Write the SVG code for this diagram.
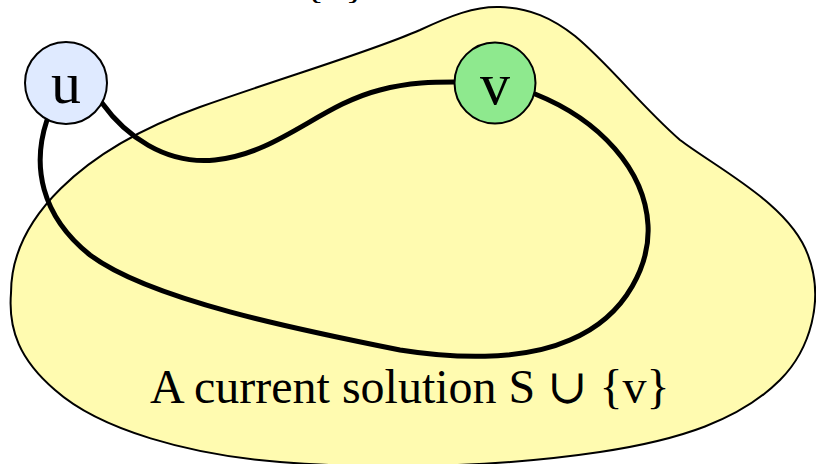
<svg xmlns="http://www.w3.org/2000/svg" width="816" height="464" viewBox="0 0 816 464">
<style>
.t{font-family:"Liberation Serif","DejaVu Serif",serif;fill:#000}
.edge{fill:none;stroke:#000;stroke-width:5;stroke-linecap:round}
.node{stroke:#000;stroke-width:2}
</style>
<rect width="816" height="464" fill="#fff"/>
<g id="region">
<path d="M 11,293 C 11,220 80,150 200,107 C 290,75 370,52 420,30 C 450,16 475,6 500,7 C 530,8 552,18 575,36 C 610,65 640,105 680,140 C 720,170 790,205 808,255 C 825,300 810,350 780,380 C 740,420 680,440 600,452 C 500,467 380,470 280,462 C 190,455 100,430 55,390 C 20,360 8,330 11,293 Z" fill="#fffbb0" stroke="#000" stroke-width="2"/>
<text class="t" x="150" y="403" font-size="48">A current solution S ∪ {v}</text>
</g>
<text class="t" x="304" y="-3" font-size="42">{v}</text>
<g id="connectors">
<path class="edge" d="M 102,103 C 125,135 165,165 215,160 C 280,153 320,105 380,90 C 410,82 435,82 455,82"/>
<path class="edge" d="M 47,120 C 32,165 40,215 90,255 C 150,300 300,330 400,350 C 450,358 520,362 570,340 C 630,315 650,260 648,225 C 645,170 600,120 535,94"/>
</g>
<g id="u">
<circle class="node" cx="66" cy="83" r="41" fill="#dfeaff"/>
<text class="t" x="66" y="103" font-size="60" text-anchor="middle">u</text>
</g>
<g id="v">
<circle class="node" cx="495" cy="83" r="40.5" fill="#8ee98e"/>
<text class="t" x="495" y="104" font-size="60" text-anchor="middle">v</text>
</g>
</svg>
